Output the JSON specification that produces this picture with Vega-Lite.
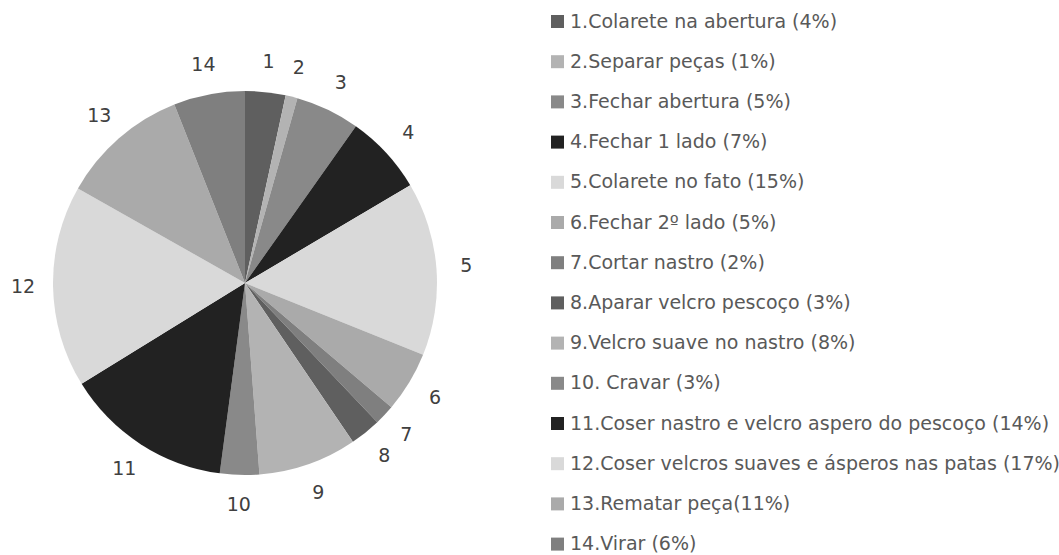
{
  "$schema": "https://vega.github.io/schema/vega-lite/v6.json",
  "width": 490,
  "height": 566,
  "autosize": {"type": "none"},
  "padding": {"left": 0, "top": 0, "right": 569, "bottom": 0},
  "background": "white",
  "data": {
    "values": [
      {"id": 1, "num": "1", "label": "1.Colarete na abertura (4%)", "value": 3.4},
      {"id": 2, "num": "2", "label": "2.Separar peças (1%)", "value": 1.0},
      {"id": 3, "num": "3", "label": "3.Fechar abertura (5%)", "value": 5.4},
      {"id": 4, "num": "4", "label": "4.Fechar 1 lado (7%)", "value": 6.7},
      {"id": 5, "num": "5", "label": "5.Colarete no fato (15%)", "value": 14.6},
      {"id": 6, "num": "6", "label": "6.Fechar 2º lado (5%)", "value": 5.1},
      {"id": 7, "num": "7", "label": "7.Cortar nastro (2%)", "value": 1.7},
      {"id": 8, "num": "8", "label": "8.Aparar velcro pescoço (3%)", "value": 2.6},
      {"id": 9, "num": "9", "label": "9.Velcro suave no nastro (8%)", "value": 8.3},
      {"id": 10, "num": "10", "label": "10. Cravar (3%)", "value": 3.3},
      {"id": 11, "num": "11", "label": "11.Coser nastro e velcro aspero do pescoço (14%)", "value": 14.1},
      {"id": 12, "num": "12", "label": "12.Coser velcros suaves e ásperos nas patas (17%)", "value": 17.0},
      {"id": 13, "num": "13", "label": "13.Rematar peça(11%)", "value": 10.8},
      {"id": 14, "num": "14", "label": "14.Virar (6%)", "value": 6.0}
    ]
  },
  "encoding": {
    "theta": {"field": "value", "type": "quantitative", "stack": true},
    "order": {"field": "id", "type": "quantitative"}
  },
  "layer": [
    {
      "mark": {"type": "arc", "outerRadius": 192, "strokeWidth": 0},
      "encoding": {
        "color": {
          "field": "label",
          "type": "nominal",
          "scale": {
            "domain": [
              "1.Colarete na abertura (4%)",
              "2.Separar peças (1%)",
              "3.Fechar abertura (5%)",
              "4.Fechar 1 lado (7%)",
              "5.Colarete no fato (15%)",
              "6.Fechar 2º lado (5%)",
              "7.Cortar nastro (2%)",
              "8.Aparar velcro pescoço (3%)",
              "9.Velcro suave no nastro (8%)",
              "10. Cravar (3%)",
              "11.Coser nastro e velcro aspero do pescoço (14%)",
              "12.Coser velcros suaves e ásperos nas patas (17%)",
              "13.Rematar peça(11%)",
              "14.Virar (6%)"
            ],
            "range": ["#5f5f5f", "#b3b3b3", "#898989", "#222222", "#d9d9d9", "#aaaaaa", "#7f7f7f", "#5f5f5f", "#b3b3b3", "#898989", "#222222", "#d9d9d9", "#aaaaaa", "#7f7f7f"]
          },
          "legend": {
            "title": null,
            "orient": "none",
            "legendX": 548,
            "legendY": 12,
            "padding": 0,
            "symbolType": "square",
            "symbolSize": 169,
            "symbolStrokeWidth": 0,
            "symbolOpacity": 1,
            "labelFont": "DejaVu Sans",
            "labelFontSize": 19,
            "labelColor": "#595959",
            "labelOffset": 3,
            "labelLimit": 600,
            "rowPadding": 20.2
          }
        }
      }
    },
    {
      "mark": {"type": "text", "radius": 222, "font": "DejaVu Sans", "fontSize": 19, "color": "#404040", "align": "center", "baseline": "middle"},
      "encoding": {
        "text": {"field": "num", "type": "nominal"}
      }
    }
  ]
}
